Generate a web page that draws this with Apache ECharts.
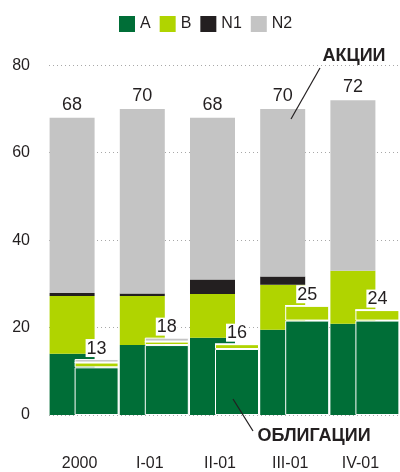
<!DOCTYPE html>
<html>
<head>
<meta charset="utf-8">
<script src="https://cdn.jsdelivr.net/npm/echarts@6/dist/echarts.min.js"></script>
<style>
html,body{margin:0;padding:0;background:#fff;}
#chart{width:400px;height:472px;}
</style>
</head>
<body>
<div id="chart"></div>
<script>
var categories = ['2000', 'I-01', 'II-01', 'III-01', 'IV-01'];
var seriesNames = ['A', 'B', 'N1', 'N2'];
// АКЦИИ (shares) stack
var sharesA  = [14.0, 16.0, 17.7, 19.5, 20.9];
var sharesB  = [13.2, 11.2, 10.0, 10.3, 12.1];
var sharesN1 = [0.7, 0.6, 3.3, 1.9, 0];
var sharesN2 = [40.1, 42.2, 37.0, 38.3, 39.0];
var sharesTotals = [68, 70, 68, 70, 72];
// ОБЛИГАЦИИ (bonds) stack
var bondsA  = [10.9, 16.0, 15.1, 21.6, 21.6];
var bondsB  = [1.1, 0.8, 1.1, 3.4, 2.4];
var bondsN1 = [0, 0, 0, 0, 0];
var bondsN2 = [0.8, 0.9, 0, 0, 0];
var bondsTotals = [13, 18, 16, 25, 24];
var yTicks = [0, 20, 40, 60, 80];

var colors = { A: '#006e37', B: '#b0d400', N1: '#231f20', N2: '#c4c4c4' };
var textColor = '#231f20';
var font = 'Liberation Sans, Arial, sans-serif';

var sharesData = [sharesA, sharesB, sharesN1, sharesN2];
var bondsData = [bondsA, bondsB, bondsN1, bondsN2];

var series = [];
seriesNames.forEach(function (n, i) {
  series.push({
    name: n, type: 'bar', stack: 'shares', data: sharesData[i],
    barWidth: 45, barGap: '-44.44%',
    itemStyle: { color: colors[n] },
    label: i === 3 ? {
      show: true, position: 'top', distance: 4,
      fontSize: 18, fontFamily: font, color: textColor,
      formatter: function (p) { return sharesTotals[p.dataIndex]; }
    } : { show: false },
    z: 2
  });
});
seriesNames.forEach(function (n, i) {
  series.push({
    name: n, type: 'bar', stack: 'bonds', data: bondsData[i],
    barWidth: 44, barGap: '-44.44%',
    itemStyle: { color: colors[n], borderColor: '#ffffff', borderWidth: 1 },
    label: i === 3 ? {
      show: true, position: 'top', distance: 2,
      fontSize: 18, fontFamily: font, color: textColor,
      backgroundColor: '#ffffff', padding: [1, 1, 0, 1], lineHeight: 17,
      formatter: function (p) { return bondsTotals[p.dataIndex]; }
    } : { show: false },
    z: 3
  });
});

var chart = echarts.init(document.getElementById('chart'), null, { renderer: 'canvas' });
chart.setOption({
  animation: false,
  backgroundColor: '#ffffff',
  textStyle: { fontFamily: font },
  legend: {
    data: seriesNames, left: 114, top: 11,
    icon: 'rect', itemWidth: 16, itemHeight: 16, itemGap: 9,
    textStyle: { fontSize: 16, color: textColor, fontFamily: font }
  },
  grid: { left: 49, top: 65.3, width: 355, height: 350.4, containLabel: false },
  xAxis: {
    type: 'category', data: categories,
    axisLine: { show: false }, axisTick: { show: false },
    axisLabel: { fontSize: 16, color: textColor, margin: 41, padding: [0, 9, 0, 0], fontFamily: font }
  },
  yAxis: {
    type: 'value', min: yTicks[0], max: yTicks[yTicks.length - 1], interval: 20,
    axisLine: { show: false }, axisTick: { show: false },
    axisLabel: { fontSize: 16, color: textColor, margin: 19, fontFamily: font },
    splitLine: { show: true, lineStyle: { color: '#a8a8a8', type: [1, 3], width: 1 } }
  },
  series: series,
  graphic: [
    { type: 'text', z: 100, style: { text: 'АКЦИИ', x: 354, y: 56, textAlign: 'center', textVerticalAlign: 'middle', font: 'bold 18px ' + font, fill: textColor } },
    { type: 'line', z: 100, shape: { x1: 320, y1: 68, x2: 291, y2: 119 }, style: { stroke: textColor, lineWidth: 1.2 } },
    { type: 'text', z: 100, style: { text: 'ОБЛИГАЦИИ', x: 314, y: 436, textAlign: 'center', textVerticalAlign: 'middle', font: 'bold 18px ' + font, fill: textColor } },
    { type: 'line', z: 100, shape: { x1: 233, y1: 399, x2: 253, y2: 431 }, style: { stroke: textColor, lineWidth: 1.2 } }
  ]
});
</script>
</body>
</html>
